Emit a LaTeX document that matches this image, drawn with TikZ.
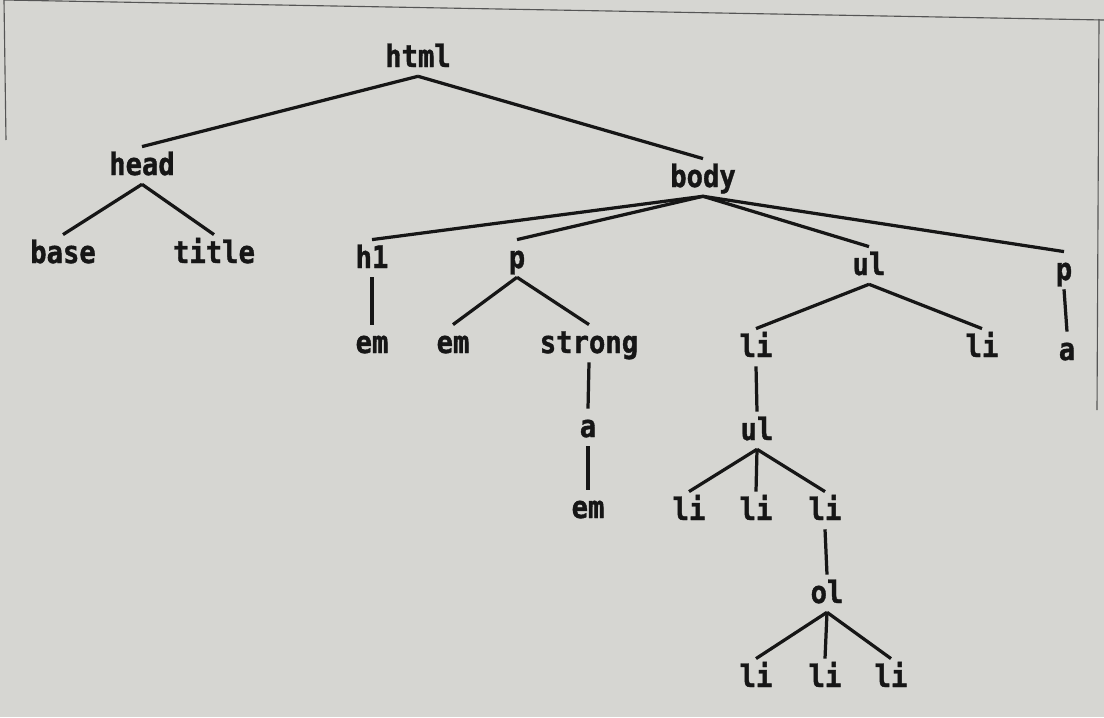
\documentclass[tikz,border=0pt]{standalone}
\usepackage{fontspec}
\setmonofont[FakeStretch=0.88,FakeBold=1.2]{DejaVu Sans Mono}
\usepackage{tikz}
\definecolor{paper}{RGB}{214,214,210}
\definecolor{ink}{RGB}{22,22,22}
\definecolor{rule}{RGB}{85,85,85}

\begin{document}
\begin{tikzpicture}[x=0.025cm,y=-0.025cm,
    every node/.style={font=\ttfamily\bfseries\fontsize{22}{24}\selectfont,text=ink,
      anchor=base,inner xsep=0pt,inner ysep=0pt,text height=20pt,text depth=6.4pt},
    branch/.style={draw=ink,line width=2.3pt}]
    \useasboundingbox (0,0) rectangle (1104,717);
    \fill[paper] (0,0) rectangle (1104,717);
    \draw[rule,line width=0.8pt] (4,0) -- (1104,20);
    \draw[rule,line width=0.8pt] (4,0) -- (6,140);
    \draw[rule,line width=0.8pt] (1099,19) -- (1097,410);

        \node (html) at (418,67) {html};
        \node (head) at (142,175) {head};
        \node (body) at (703,187) {body};
        \node (base) at (63,263) {base};
        \node (title) at (214,263) {title};
        \node (h1) at (372,268) {h1};
        \node (p) at (517,268) {p};
        \node (ul) at (869,275) {ul};
        \node (plast) at (1064,280) {p};
        \node (h1em) at (372,353) {em};
        \node (pem) at (453,353) {em};
        \node (strong) at (589,353) {strong};
        \node (lione) at (756,357) {li};
        \node (litwo) at (982,357) {li};
        \node (pa) at (1067,360) {a};
        \node (stronga) at (588,437) {a};
        \node (subul) at (757,440) {ul};
        \node (aem) at (588,518) {em};
        \node (subli1) at (689,520) {li};
        \node (subli2) at (756,520) {li};
        \node (subli3) at (825,520) {li};
        \node (ol) at (827,603) {ol};
        \node (olli1) at (756,687) {li};
        \node (olli2) at (825,687) {li};
        \node (olli3) at (891,687) {li};

        \foreach \from/\to in {html/head,html/body,head/base,head/title,
            body/h1,body/p,body/ul,body/plast,h1/h1em,p/pem,p/strong,
            ul/lione,ul/litwo,plast/pa,strong/stronga,stronga/aem,lione/subul,
            subul/subli1,subul/subli2,subul/subli3,subli3/ol,
            ol/olli1,ol/olli2,ol/olli3}
          \draw[branch] (\from.south) -- (\to.north);
  \end{tikzpicture}
\end{document}
